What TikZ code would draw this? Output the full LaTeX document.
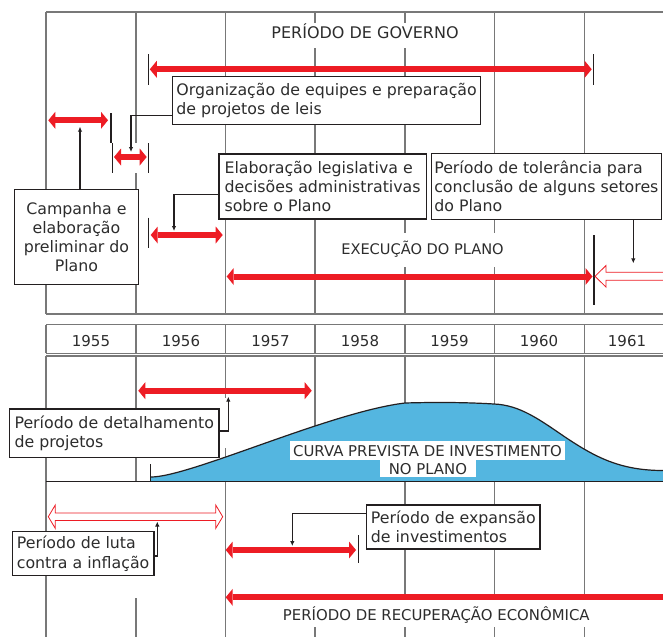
\documentclass[tikz,border=0pt]{standalone}
\usepackage{fontspec}
\setmainfont{DejaVu Sans}
\usetikzlibrary{arrows.meta}
\definecolor{redc}{RGB}{237,28,36}
\definecolor{bluec}{RGB}{84,182,224}
\definecolor{gridc}{RGB}{120,120,120}
\definecolor{textc}{RGB}{45,45,45}
\definecolor{linec}{RGB}{35,31,32}
\begin{document}
\begin{tikzpicture}[x=1pt,y=-1pt,
  font=\fontsize{15.8}{19.3}\selectfont, text=textc,
  gridline/.style={draw=gridc,line width=1.4pt},
  bar/.style={draw=redc,line width=6pt},
  redtip/.tip={Triangle[length=7pt,width=17pt,line width=0pt]},
  bothbar/.style={bar,redtip-redtip},
  leftbar/.style={bar,redtip-},
  rightbar/.style={bar,-redtip},
  hollow/.style={draw=redc,line width=0.8pt,fill=white},
  tickline/.style={draw=linec,line width=1.3pt},
  pointer/.style={draw=linec,line width=1.2pt,-{Latex[length=5pt,width=4.5pt]}},
  box/.style={draw=linec,line width=1.2pt,fill=white,inner xsep=3pt,inner ysep=2pt,align=left,anchor=north west},
  caps/.style={font=\fontsize{14.9}{18}\selectfont,anchor=base},
  year/.style={font=\fontsize{15}{18}\selectfont,anchor=base},
  curvelbl/.style={caps,fill=white,inner ysep=3.6pt}
]
\useasboundingbox (0,0) rectangle (663,637);
\clip (0,0) rectangle (663,637);
\fill[white] (0,0) rectangle (663,637);

% ---------- top frame ----------
\draw[gridline] (46,12) -- (663,12);
\draw[gridline] (46,314) -- (663,314);
\draw[gridline] (46,12) -- (46,314);
\draw[gridline] (136,12) -- (136,143) (136,173) -- (136,314);
\draw[gridline] (225.7,12) -- (225.7,314);
\draw[gridline] (315,12) -- (315,23) (315,48) -- (315,314);
\draw[gridline] (405,12) -- (405,23) (405,48) -- (405,233) (405,267) -- (405,314);
\draw[gridline] (494.3,12) -- (494.3,233) (494.3,267) -- (494.3,314);
\draw[gridline] (584.3,12) -- (584.3,314);

% ---------- years row ----------
\draw[gridline] (46,324.7) -- (663,324.7) (46,353.3) -- (663,353.3) (46,356) -- (663,356);
\foreach \x in {46,136,225.7,315,405,494.3,584.3}
  \draw[gridline] (\x,324.7) -- (\x,353.3);
\node[year] (y55) at (91,346.7) {1955};
\node[year] (y56) at (181,346.7) {1956};
\node[year] (y57) at (270.5,346.7) {1957};
\node[year] (y58) at (360,346.7) {1958};
\node[year] (y59) at (449.5,346.7) {1959};
\node[year] (y60) at (539,346.7) {1960};
\node[year] (y61) at (627,346.7) {1961};

% ---------- lower frame ----------
\draw[gridline] (46,356) -- (46,637);
\draw[gridline] (136,356) -- (136,482) (136,598) -- (136,637);
\draw[gridline] (225.7,356) -- (225.7,398) (225.7,448) -- (225.7,637);
\draw[gridline] (315,356) -- (315,482) (315,627) -- (315,637);
\foreach \x in {405,494.3,584.3}
  \draw[gridline] (\x,356) -- (\x,598) (\x,627) -- (\x,637);

% ---------- investment curve ----------
\fill[bluec] (151,481.7) -- (151,477) .. controls (190,477) and (330,412) .. (405,403)
  .. controls (440,402) and (470,402.5) .. (494,404)
  .. controls (520,405) and (540,420) .. (565,437)
  .. controls (595,457) and (620,470.5) .. (663,470.5) -- (663,481.7) -- cycle;
\draw[linec,line width=1.2pt] (151,477) .. controls (190,477) and (330,412) .. (405,403)
  .. controls (440,402) and (470,402.5) .. (494,404)
  .. controls (520,405) and (540,420) .. (565,437)
  .. controls (595,457) and (620,470.5) .. (663,470.5);
\draw[linec,line width=1.4pt] (46,481.7) -- (663,481.7);
\draw[tickline] (150.7,464.3) -- (150.7,481.7);
\node[curvelbl,inner xsep=3pt] (curva1) at (427.5,456) {CURVA PREVISTA DE INVESTIMENTO};
\node[curvelbl,inner xsep=9pt,inner ysep=2.6pt] (curva2) at (427.9,474) {NO PLANO};

% ---------- labels ----------
\node[caps,font=\fontsize{16}{19}\selectfont] (gov) at (365,38.3) {PERÍODO DE GOVERNO};
\node[caps,font=\fontsize{14.6}{18}\selectfont] (exec) at (422.5,254) {EXECUÇÃO DO PLANO};
\node[caps] (recup) at (436.3,620.7) {PERÍODO DE RECUPERAÇÃO ECONÔMICA};

% ---------- ticks ----------
\draw[tickline] (148.3,54) -- (148.3,85);
\draw[tickline] (593.3,54) -- (593.3,85);
\draw[tickline] (111,113) -- (111,143);
\draw[tickline] (112.5,143) -- (112.5,173);
\draw[tickline] (148.3,143) -- (148.3,173);
\draw[tickline] (148.3,217.7) -- (148.3,248.3);
\draw[tickline] (594,235) -- (594,305);
\draw[tickline] (358.3,535) -- (358.3,563.3);

% ---------- red period bars ----------
\draw[bothbar] (149.8,69.3) -- (591.7,69.3);
\draw[bothbar] (48.3,120.3) -- (108,120.3);
\draw[bothbar] (114,157) -- (146.7,157);
\draw[bothbar] (150.7,235) -- (222.7,235);
\draw[bothbar] (226.7,276.5) -- (592.5,276.5);
\draw[bothbar] (138.3,390.7) -- (311.7,390.7);
\draw[bothbar] (225.7,550) -- (356,550);
\draw[leftbar] (225.7,597.3) -- (670,597.3);

% ---------- hollow arrows ----------
\draw[hollow] (595,276.3) -- (606,265.5) -- (606,272.3) -- (670,272.3) -- (670,280.3)
  -- (606,280.3) -- (606,287.1) -- cycle;
\draw[hollow] (48.3,516.7) -- (55.3,505) -- (55.3,513) -- (215.7,513) -- (215.7,505)
  -- (222.7,516.7) -- (215.7,528.4) -- (215.7,520.4) -- (55.3,520.4) -- (55.3,528.4) -- cycle;

% ---------- boxes ----------
\node[box,minimum width=308pt,minimum height=48pt] (orgbox) at (172,76)
  {Organização de equipes e preparação\\de projetos de leis};
\node[box,align=center,minimum width=123.7pt,minimum height=95pt] (campbox) at (14,189)
  {Campanha e\\elaboração\\preliminar do\\Plano};
\node[box,minimum width=207.4pt,minimum height=65pt] (elabbox) at (218.3,153.3)
  {Elaboração legislativa e\\decisões administrativas\\sobre o Plano};
\node[box,minimum width=230pt,minimum height=66.3pt] (tolbox) at (430.7,152.7)
  {Período de tolerância para\\conclusão de alguns setores\\do Plano};
\node[box,minimum width=209.3pt,minimum height=48.4pt] (detbox) at (9,408.3)
  {Período de detalhamento\\de projetos};
\node[box,minimum width=141.6pt,minimum height=44pt] (lutabox) at (11.7,531)
  {Período de luta\\contra a inflação};
\node[box,minimum width=173.3pt,minimum height=44pt] (expbox) at (366,504.3)
  {Período de expansão\\de investimentos};

% ---------- pointers ----------
\coordinate (tipC) at (80,126.7);
\coordinate (bendA) at (131,115.7);
\coordinate (tipA) at (131,152);
\coordinate (bendB) at (174,194.5);
\coordinate (tipB) at (174,231);
\coordinate (tipT) at (633.3,263.3);
\coordinate (bendD) at (228.3,431);
\coordinate (tipD) at (228.3,396.7);
\coordinate (bendL) at (157.3,556);
\coordinate (tipL) at (157.3,521.5);
\coordinate (bendE) at (292.3,513.3);
\coordinate (tipE) at (292.3,546);

\draw[pointer] (campbox.north -| tipC) -- (tipC);
\draw[pointer] (orgbox.west |- bendA) -- (bendA) -- (tipA);
\draw[pointer] (elabbox.west |- bendB) -- (bendB) -- (tipB);
\draw[pointer] (tolbox.south -| tipT) -- (tipT);
\draw[pointer] (detbox.east |- bendD) -- (bendD) -- (tipD);
\draw[pointer] (lutabox.east |- bendL) -- (bendL) -- (tipL);
\draw[pointer] (expbox.west |- bendE) -- (bendE) -- (tipE);
\end{tikzpicture}
\end{document}
